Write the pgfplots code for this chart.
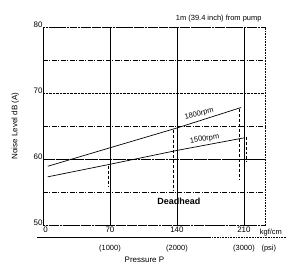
\documentclass[border=0pt]{standalone}
\usepackage{pgfplots}
\pgfplotsset{compat=1.18}
\usepackage{fontspec}
\setmainfont{Liberation Sans}
\begin{document}
\begin{tikzpicture}[x=1bp,y=1bp]
\useasboundingbox (0,0) rectangle (286bp,273bp);
\begin{axis}[
  at={(43bp,48bp)}, anchor=south west,
  scale only axis, width=222bp, height=198bp,
  xmin=0, xmax=232, ymin=50, ymax=80,
  xtick={0,70,140,210}, ytick={50,60,70,80},
  xticklabels={\hspace{5bp}0,70,140,210},
  minor ytick={55,65,75},
  tick style={draw=none},
  axis line style={densely dotted, line width=0.6pt},
  ymajorgrids, xmajorgrids, yminorgrids,
  major grid style={black, densely dotted, line width=0.6pt},
  minor grid style={black, dash pattern=on 5pt off 1.5pt on 1pt off 1.5pt, line width=0.6pt},
  x grid style={black, solid, line width=0.8pt},
  ticklabel style={font=\fontsize{8}{9}\selectfont},
  xticklabel style={yshift=2bp},
  yticklabel style={xshift=3bp, yshift=2bp},
  clip=false,
  /pgf/number format/assume math mode=true,
]
% solid-ish 60 line
\addplot[black, line width=0.8pt, dash pattern=on 10pt off 1.5pt on 1pt off 1.5pt] coordinates {(0,60) (232,60)};
% 1800 rpm
\addplot[black, line width=0.7pt] coordinates {(5,58.9) (70,61.7) (140,64.7) (207,67.8)};
% 1500 rpm
\addplot[black, line width=0.7pt] coordinates {(5,57.3) (70,59.2) (140,61.3) (210,63.2)};
% dashed drop lines
\addplot[black, densely dashed, line width=0.6pt] coordinates {(68,59.0) (68,55.8)};
\addplot[black, densely dashed, line width=0.6pt] coordinates {(136,64.4) (136,55.2)};
\addplot[black, densely dashed, line width=0.6pt] coordinates {(205,67.6) (205,57.0)};
\addplot[black, densely dashed, line width=0.6pt] coordinates {(212,63.4) (212,59.5)};
% labels
\node[font=\fontsize{7.5}{8}\selectfont, rotate=14, anchor=south] at (axis cs:165,65.8) {1800rpm};
\node[font=\fontsize{7.5}{8}\selectfont, rotate=9, anchor=south] at (axis cs:170,62.0) {1500rpm};
\node[font=\bfseries\fontsize{9}{10}\selectfont] at (axis cs:142,53.6) {Deadhead};
\node[font=\fontsize{7.5}{8}\selectfont, anchor=south east] at (axis cs:232,80.2) {1m (39.4 inch) from pump};
\node[font=\fontsize{7.5}{8}\selectfont, anchor=west] at (axis cs:223,48.9) {kgf/cm};
% psi axis
\draw[black, line width=0.6pt] (axis cs:-6,48.2) -- (axis cs:175,48.2);
\draw[black, densely dotted, line width=0.6pt] (axis cs:175,48.2) -- (axis cs:255,48.2);
\node[font=\fontsize{7.5}{8}\selectfont] at (axis cs:70,46.5) {(1000)};
\node[font=\fontsize{7.5}{8}\selectfont] at (axis cs:140,46.5) {(2000)};
\node[font=\fontsize{7.5}{8}\selectfont] at (axis cs:210,46.5) {(3000)};
\node[font=\fontsize{7.5}{8}\selectfont] at (axis cs:236,46.5) {(psi)};
\node[font=\fontsize{8}{9}\selectfont] at (axis cs:106,44.7) {Pressure P};
\node[font=\fontsize{8}{9}\selectfont, rotate=90] at (axis cs:-29,65) {Noise Level dB (A)};
\end{axis}
\end{tikzpicture}
\end{document}
